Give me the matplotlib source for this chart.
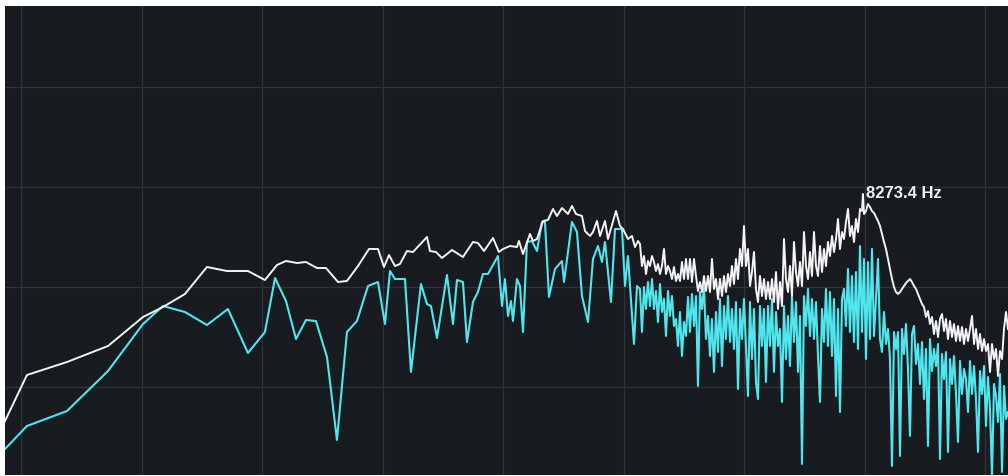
import matplotlib
matplotlib.use("Agg")
import matplotlib.pyplot as plt

# low band: sparse bins, read per trace (Hz / dB)
peak_lo_freq = [59.5, 67.5, 85.0, 107.6, 131.6, 147.6, 167.5, 190.1, 213.3, 240.7,
                265.4, 284.4, 299.5, 319.1, 336.0, 358.0, 377.0, 404.0, 425.4, 453.2,
                482.8, 508.5, 526.3, 541.6, 560.6, 577.0, 600.7, 621.8, 674.0, 685.7,
                709.8, 734.7, 778.2, 829.0, 878.1, 903.7, 935.5, 985.2, 1019.8, 1043.5,
                1086.4, 1131.0, 1144.1, 1170.7, 1218.8, 1240.1, 1268.9, 1313.5, 1351.8, 1391.2,
                1423.6, 1465.2, 1516.6, 1551.9, 1588.1, 1643.8, 1672.4, 1721.3, 1751.2, 1792.0,
                1823.2, 1876.4, 1909.0, 1998.9, 2045.4, 2081.0, 2141.7, 2191.6, 2229.7, 2268.5]
peak_lo_db = [-63.4, -58.8, -57.5, -55.9, -53.0, -52.0, -50.7, -48.0, -48.4, -48.4,
              -49.3, -47.8, -47.4, -47.6, -47.5, -48.1, -48.1, -49.5, -49.4, -47.9,
              -46.2, -46.2, -48.0, -46.8, -47.9, -47.7, -46.4, -46.5, -45.0, -46.4,
              -46.5, -47.1, -46.3, -47.0, -45.5, -45.6, -46.4, -45.1, -46.5, -46.2,
              -45.9, -46.0, -45.4, -46.7, -44.7, -45.4, -45.2, -43.4, -43.3, -42.2,
              -42.9, -42.1, -42.7, -41.9, -42.7, -42.9, -44.4, -44.9, -44.5, -43.4,
              -44.9, -43.4, -45.2, -42.4, -43.9, -44.2, -45.2, -44.9, -46.0, -45.4]

live_lo_freq = [59.5, 67.5, 85.0, 107.6, 131.6, 147.6, 167.5, 190.1, 214.5, 240.7,
                265.4, 281.2, 299.5, 317.3, 336.0, 355.9, 379.2, 401.6, 425.4, 450.6,
                480.1, 508.5, 529.3, 544.8, 560.6, 593.8, 614.7, 651.1, 674.0, 689.6,
                713.9, 756.1, 782.7, 800.9, 829.0, 848.3, 878.1, 903.7, 930.1, 957.3,
                1013.9, 1037.5, 1055.6, 1073.9, 1092.6, 1105.3, 1131.0, 1150.7, 1170.7, 1198.0,
                1232.9, 1268.9, 1306.0, 1328.7, 1359.6, 1407.4, 1465.2, 1482.2, 1551.9, 1597.2,
                1643.8, 1701.6, 1751.2, 1802.3, 1844.3, 1876.4, 1942.2, 1987.4, 2069.1, 2105.1,
                2141.7, 2216.9, 2255.5]
live_lo_db = [-66.2, -63.9, -62.4, -58.4, -53.7, -51.9, -52.5, -53.8, -52.2, -56.6,
              -54.5, -49.1, -51.4, -55.2, -53.3, -53.4, -57.0, -65.3, -54.5, -53.4,
              -49.9, -49.5, -53.7, -48.4, -49.2, -49.2, -58.5, -49.7, -51.7, -51.9,
              -55.1, -48.8, -53.7, -49.3, -49.5, -55.5, -51.5, -50.5, -48.7, -48.7,
              -46.9, -51.9, -49.2, -52.9, -51.4, -53.4, -49.2, -49.9, -54.5, -45.5,
              -45.4, -46.4, -43.5, -43.5, -51.0, -48.2, -47.4, -49.5, -43.5, -44.5,
              -50.9, -53.5, -47.2, -45.9, -47.5, -45.5, -51.5, -44.2, -44.2, -49.9,
              -46.9, -55.7, -49.9]

# high band: dense bins shared by both traces
hi_freq = [2294.8, 2321.3, 2348.2, 2375.4, 2402.9, 2430.6, 2458.8, 2487.2, 2516.0, 2545.2,
           2574.6, 2604.4, 2634.5, 2665.0, 2695.8, 2727.0, 2758.6, 2790.5, 2822.8, 2855.5,
           2888.5, 2921.9, 2955.8, 2990.0, 3024.6, 3059.5, 3094.9, 3130.8, 3167.0, 3203.6,
           3240.7, 3278.2, 3316.1, 3354.5, 3393.3, 3432.6, 3472.3, 3512.5, 3553.1, 3594.2,
           3635.8, 3677.9, 3720.4, 3763.5, 3807.0, 3851.1, 3895.7, 3940.7, 3986.3, 4032.4,
           4079.1, 4126.3, 4174.0, 4222.3, 4271.2, 4320.6, 4370.6, 4421.1, 4472.3, 4524.1,
           4576.4, 4629.3, 4683.0, 4737.1, 4792.0, 4847.3, 4903.4, 4960.2, 5017.6, 5075.7,
           5134.4, 5193.8, 5253.9, 5314.7, 5376.2, 5438.4, 5501.3, 5565.0, 5629.5, 5694.6,
           5760.4, 5827.2, 5894.6, 5962.8, 6031.8, 6101.5, 6172.1, 6243.7, 6316.0, 6389.2,
           6462.8, 6537.6, 6613.3, 6689.7, 6767.1, 6845.5, 6924.8, 7005.1, 7086.0, 7167.9,
           7250.9, 7334.7, 7419.5, 7505.5, 7592.3, 7680.2, 7769.0, 7859.0, 7950.1, 8041.8,
           8134.9, 8228.9, 8273.4,
           8324.1, 8420.4, 8517.9, 8616.4, 8716.2, 8817.0, 8919.0, 9022.3, 9126.5, 9232.2,
           9339.1, 9447.1, 9556.5, 9666.9, 9778.8, 9892.1, 10006, 10122, 10240, 10358,
           10478, 10599, 10722, 10846, 10971, 11098, 11227, 11357, 11488, 11621,
           11755, 11891, 12029, 12168, 12309, 12451, 12595, 12741, 12889, 13038,
           13189, 13341, 13496, 13652, 13810, 13970, 14131, 14295, 14460, 14628,
           14797, 14968, 15141, 15316, 15494, 15673, 15854, 16038, 16223, 16411,
           16601, 16793, 16987, 17184, 17383, 17584, 17788, 17993, 18201, 18412,
           18625, 18841, 19059]
peak_hi_db = [-45.7, -47.9, -46.9, -48.7, -47.4, -47.9, -46.9, -47.5, -48.4, -47.7,
              -48.7, -47.9, -46.2, -48.7, -47.9, -48.4, -49.2, -48.0, -49.4, -48.7,
              -49.4, -47.5, -49.2, -47.2, -49.2, -47.2, -49.5, -47.2, -48.9, -50.4,
              -49.5, -50.5, -48.9, -50.4, -48.9, -50.5, -47.2, -50.2, -49.2, -51.2,
              -49.2, -50.9, -48.9, -50.5, -48.7, -49.9, -47.9, -49.7, -47.2, -49.2,
              -46.2, -47.9, -43.9, -47.9, -46.2, -49.9, -48.5, -46.5, -50.2, -51.5,
              -48.9, -50.9, -49.2, -51.2, -49.5, -51.2, -49.2, -51.5, -48.5, -52.2,
              -49.5, -51.9, -45.2, -49.2, -50.5, -47.9, -50.9, -45.5, -48.5, -49.9,
              -47.5, -49.9, -44.5, -47.9, -49.2, -46.5, -48.9, -44.5, -47.9, -48.9,
              -45.9, -48.5, -46.2, -47.9, -45.5, -46.9, -44.9, -46.5, -45.2, -43.2,
              -46.2, -44.5, -45.2, -43.5, -42.2, -44.9, -43.9, -45.5, -43.2, -44.5,
              -42.2, -42.4, -40.7,
              -42.7, -42.4, -41.7, -42.0, -42.4, -42.6, -43.0, -43.4, -43.9, -44.7,
              -45.5, -46.2, -47.2, -48.2, -49.2, -50.0, -50.5, -50.7, -50.5, -50.2,
              -49.9, -49.6, -49.4, -49.2, -49.5, -49.9, -50.2, -50.7, -51.2, -51.7,
              -52.0, -53.0, -52.4, -53.7, -53.0, -54.7, -53.4, -55.0, -53.2, -52.7,
              -54.4, -53.2, -55.2, -53.4, -55.0, -53.7, -55.4, -53.9, -55.4, -54.0,
              -55.7, -54.2, -55.4, -54.2, -52.9, -55.7, -54.2, -56.2, -54.7, -56.4,
              -55.2, -56.4, -55.7, -58.5, -55.7, -57.2, -56.2, -58.9, -56.4, -57.2,
              -54.2, -52.5, -54.2]
live_hi_db = [-50.2, -54.5, -50.0, -52.2, -49.5, -51.9, -49.2, -52.2, -50.4, -53.5,
              -49.7, -52.5, -51.2, -54.9, -50.4, -52.9, -50.9, -53.9, -53.2, -55.9,
              -52.5, -56.9, -53.5, -54.9, -51.0, -54.5, -50.7, -53.9, -50.9, -59.9,
              -50.5, -52.2, -50.0, -55.2, -52.9, -56.9, -53.2, -58.5, -52.5, -56.5,
              -51.2, -57.9, -51.9, -55.2, -50.9, -55.5, -52.2, -56.2, -51.5, -60.2,
              -52.2, -55.2, -51.2, -55.9, -60.9, -51.5, -57.2, -52.2, -59.5, -61.2,
              -51.9, -55.9, -52.2, -59.5, -51.9, -55.9, -51.2, -58.5, -52.5, -55.9,
              -54.2, -61.5, -51.9, -57.2, -52.9, -57.9, -50.9, -55.5, -51.5, -58.5,
              -52.9, -67.7, -50.9, -53.9, -50.2, -54.9, -51.2, -55.2, -51.5, -56.9,
              -61.5, -52.2, -55.5, -50.2, -55.9, -50.5, -56.9, -51.2, -60.9, -52.2,
              -62.5, -51.2, -50.2, -53.9, -48.2, -54.5, -48.9, -55.5, -48.5, -56.2,
              -45.9, -54.5, -51.2,
              -47.2, -57.2, -47.5, -55.2, -46.2, -54.9, -51.2, -47.2, -55.2, -56.5,
              -52.5, -55.7, -54.2, -57.2, -67.9, -54.5, -56.2, -54.5, -66.9, -54.2,
              -56.7, -53.7, -58.2, -64.9, -54.7, -53.9, -57.7, -55.7, -59.7, -55.5,
              -61.2, -56.2, -65.9, -55.2, -58.4, -56.2, -57.9, -55.7, -67.2, -56.7,
              -59.2, -56.5, -66.5, -57.2, -59.7, -56.9, -60.7, -65.5, -57.4, -60.7,
              -58.2, -59.2, -62.5, -57.4, -60.7, -57.9, -61.2, -66.5, -58.4, -60.7,
              -57.9, -63.9, -59.0, -62.2, -68.9, -59.7, -60.9, -63.5, -58.7, -68.5,
              -59.9, -63.2, -62.5]

peak_freq = peak_lo_freq + hi_freq
peak_db = peak_lo_db + peak_hi_db
live_freq = live_lo_freq + hi_freq
live_db = live_lo_db + live_hi_db

# octave grid on the C notes
grid_freqs = [65.41, 130.81, 261.63, 523.25, 1046.5, 2093, 4186, 8372, 16744]
grid_db = [-30, -40, -50, -60]

peak_label_freq = 8273.4
peak_label_db = -40.7

bg = '#181b1f'
fig = plt.figure(figsize=(10.08, 4.77), dpi=100, facecolor='white')
ax = fig.add_axes([5 / 1008, 1 / 477, 1003 / 1008, 469 / 477])
ax.set_facecolor(bg)

for f in grid_freqs:
    ax.axvline(f, color='#30343a', lw=0.9, zorder=1)
for d in grid_db:
    ax.axhline(d, color='#30343a', lw=0.9, zorder=1)

ax.plot(live_freq, live_db, color='#50e6ee', lw=1.5, zorder=2)
ax.plot(peak_freq, peak_db, color='#f4f4f4', lw=1.4, zorder=3)

ax.annotate(f'{peak_label_freq:.1f} Hz', (peak_label_freq, peak_label_db),
            xytext=(3, -3), textcoords='offset pixels', ha='left', va='baseline',
            color='#f0f0f0', fontsize=12, fontweight='bold',
            family=['Liberation Sans', 'DejaVu Sans'], zorder=4)

ax.set_xscale('log')
ax.set_xlim(59.5, 19058)
ax.set_ylim(-68.8, -21.9)
ax.set_xticks([])
ax.set_yticks([])
ax.minorticks_off()
for s in ax.spines.values():
    s.set_visible(False)

fig.savefig('out.png', dpi=100, facecolor='white')
